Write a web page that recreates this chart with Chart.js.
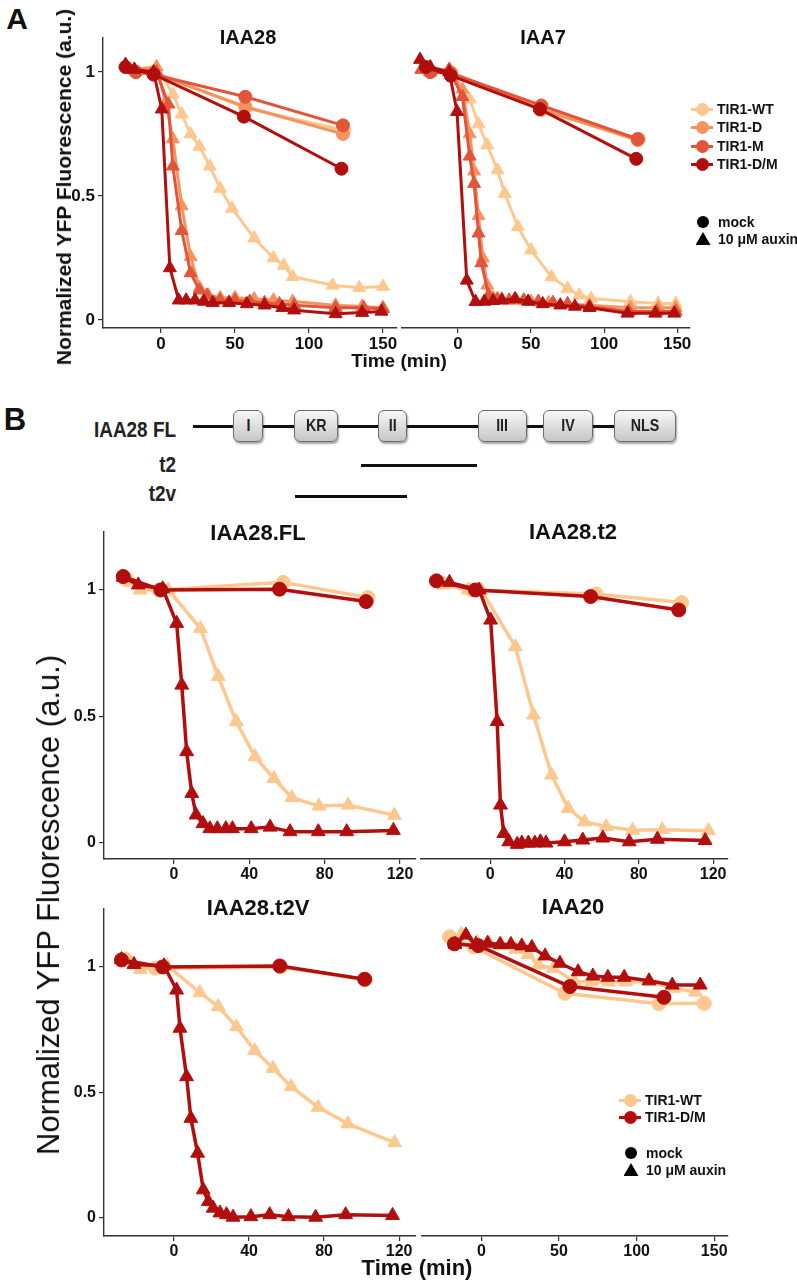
<!DOCTYPE html>
<html><head><meta charset="utf-8">
<script src="https://cdn.jsdelivr.net/npm/chart.js@4.4.1/dist/chart.umd.min.js"></script>
<style>
html,body{margin:0;padding:0;background:#fff;}
#page{position:relative;width:797px;height:1286px;overflow:hidden;font-family:'Liberation Sans',Arial,sans-serif;color:#111;}
.t{position:absolute;white-space:nowrap;line-height:1;transform:translate(-50%,-50%);}
.r{position:absolute;white-space:nowrap;line-height:1;transform:translate(-100%,-50%) scaleX(0.86);transform-origin:right center;}
.l{position:absolute;white-space:nowrap;line-height:1;transform:translate(0,-50%);}
canvas{position:absolute;}
.dom{position:absolute;box-sizing:border-box;border:1px solid #6b6b6b;border-radius:6px;background:linear-gradient(#f8f8f8,#c6c6c6);box-shadow:1px 2px 2px rgba(0,0,0,.35);display:flex;align-items:center;justify-content:center;font-family:'Liberation Sans',Arial,sans-serif;font-weight:bold;font-size:17px;color:#222;}
.dom span{display:inline-block;transform:scaleX(0.84);}
.bar{position:absolute;background:#111;}
.mk{position:absolute;}
</style></head><body><div id="page"></div>
<script>
// ---------- tick labels ----------
const yTicks = [0, 0.5, 1];
const xTicks150 = [0, 50, 100, 150];
const xTicks120 = [0, 40, 80, 120];

// ---------- Panel A : IAA28 ----------
const A28_WT_mock_t = [-17, -5, 57, 124];  const A28_WT_mock_v = [1.0, 1.0, 0.855, 0.765];
const A28_D_mock_t  = [-17, -5, 57, 123];  const A28_D_mock_v  = [1.0, 0.995, 0.86, 0.75];
const A28_M_mock_t  = [-17, -5, 57, 123];  const A28_M_mock_v  = [1.0, 0.99, 0.90, 0.785];
const A28_DM_mock_t = [-24, -5, 56, 122];  const A28_DM_mock_v = [1.02, 0.99, 0.82, 0.61];
const A28_WT_aux_t = [-23, -18, -3, 8, 14, 20, 26, 33, 40, 48, 63, 76, 83, 89, 116, 134, 150];
const A28_WT_aux_v = [1.02, 1.01, 1.02, 0.91, 0.83, 0.75, 0.70, 0.62, 0.53, 0.45, 0.33, 0.25, 0.22, 0.175, 0.14, 0.13, 0.135];
const A28_D_aux_t = [-23, -18, -3, 3, 8, 14, 20, 26, 32, 40, 50, 63, 76, 89, 118, 136, 150];
const A28_D_aux_v = [1.02, 1.01, 1.02, 0.88, 0.73, 0.46, 0.255, 0.13, 0.10, 0.09, 0.09, 0.085, 0.08, 0.075, 0.06, 0.055, 0.05];
const A28_M_aux_t = [-23, -18, -3, 5, 8, 14, 20, 26, 31, 40, 50, 60, 70, 80, 90, 118, 137, 150];
const A28_M_aux_v = [1.02, 1.01, 1.0, 0.87, 0.62, 0.36, 0.19, 0.12, 0.10, 0.08, 0.08, 0.075, 0.07, 0.065, 0.06, 0.05, 0.05, 0.045];
const A28_DM_aux_t = [-24, -18, -5, 0.5, 6, 12, 17, 23, 29, 35, 46, 58, 70, 82, 90, 118, 136, 149];
const A28_DM_aux_v = [1.03, 1.01, 1.0, 0.85, 0.21, 0.08, 0.08, 0.08, 0.075, 0.07, 0.07, 0.065, 0.06, 0.05, 0.04, 0.025, 0.03, 0.035];

// ---------- Panel A : IAA7 ----------
const A7_WT_mock_t = [-19, -5, 57, 124];  const A7_WT_mock_v = [1.0, 1.0, 0.845, 0.73];
const A7_D_mock_t  = [-19, -5, 57, 123];  const A7_D_mock_v  = [1.0, 0.995, 0.85, 0.725];
const A7_M_mock_t  = [-19, -5, 57, 123];  const A7_M_mock_v  = [1.0, 0.995, 0.865, 0.73];
const A7_DM_mock_t = [-22, -5, 56, 122];  const A7_DM_mock_v = [1.02, 0.985, 0.85, 0.65];
const A7_WT_aux_t = [-25, -19, -6, 8, 14, 20, 27, 32, 41, 50, 64, 75, 83, 91, 118, 137, 149];
const A7_WT_aux_v = [1.01, 1.0, 1.01, 0.89, 0.79, 0.705, 0.605, 0.51, 0.376, 0.282, 0.174, 0.127, 0.10, 0.087, 0.074, 0.067, 0.067];
const A7_D_aux_t = [-25, -19, -6, 3, 8, 11, 14, 17, 20, 24, 30, 40, 50, 62, 75, 90, 118, 137, 149];
const A7_D_aux_v = [1.01, 1.0, 1.01, 0.93, 0.75, 0.60, 0.42, 0.25, 0.14, 0.09, 0.085, 0.08, 0.075, 0.07, 0.065, 0.06, 0.05, 0.05, 0.05];
const A7_M_aux_t = [-25, -19, -6, 3, 8, 11, 14, 16, 21, 27, 35, 45, 55, 65, 75, 90, 117, 136, 149];
const A7_M_aux_v = [1.01, 1.0, 1.01, 0.90, 0.66, 0.55, 0.35, 0.23, 0.10, 0.085, 0.08, 0.08, 0.075, 0.07, 0.065, 0.055, 0.035, 0.035, 0.035];
const A7_DM_aux_t = [-26, -19, -6, -0.7, 6, 12, 18, 24, 30, 39, 48, 58, 70, 80, 90, 116, 135, 148];
const A7_DM_aux_v = [1.05, 1.02, 1.0, 0.84, 0.16, 0.074, 0.075, 0.078, 0.08, 0.085, 0.075, 0.065, 0.06, 0.055, 0.05, 0.027, 0.027, 0.027];

// ---------- Panel B : IAA28.FL ----------
const FL_WT_mock_t = [-25, -8, 58, 103];   const FL_WT_mock_v = [1.04, 1.0, 1.03, 0.97];
const FL_DM_mock_t = [-27, -7, 56, 102];   const FL_DM_mock_v = [1.053, 1.0, 1.003, 0.954];
const FL_WT_aux_t = [-25, -18, -3, 14, 23.5, 33, 43, 53, 62.5, 77, 92.5, 117];
const FL_WT_aux_v = [1.04, 1.0, 1.0, 0.848, 0.658, 0.48, 0.341, 0.255, 0.18, 0.146, 0.15, 0.11];
const FL_DM_aux_t = [-27, -19, -6, 1.4, 4.1, 6.7, 9.4, 11.7, 15.4, 19, 23, 27.5, 31, 41, 51, 61.6, 76.6, 91.7, 116.5];
const FL_DM_aux_v = [1.05, 1.02, 1.005, 0.868, 0.624, 0.361, 0.196, 0.111, 0.077, 0.057, 0.057, 0.057, 0.057, 0.057, 0.063, 0.045, 0.045, 0.045, 0.05];

// ---------- Panel B : IAA28.t2 ----------
const T2_WT_mock_t = [-27, -10, 57, 103];  const T2_WT_mock_v = [1.03, 1.0, 0.984, 0.95];
const T2_DM_mock_t = [-29, -8, 54, 101.5]; const T2_DM_mock_v = [1.036, 1.0, 0.974, 0.921];
const T2_WT_aux_t = [-25, -12, -4.9, 13.5, 23.3, 33, 42, 50.8, 62.4, 76.6, 92.6, 117.5];
const T2_WT_aux_v = [1.02, 1.0, 1.0, 0.776, 0.506, 0.269, 0.137, 0.084, 0.065, 0.051, 0.053, 0.049];
const T2_DM_aux_t = [-22, -6, 0.2, 3.7, 5.5, 7.3, 10, 14.5, 17, 20.5, 24, 27, 30, 40, 49.8, 60.6, 74.8, 90, 115.7];
const T2_DM_aux_v = [1.03, 1.0, 0.881, 0.48, 0.15, 0.038, 0.005, -0.005, 0.0, 0.0, 0.0, 0.005, 0.0, 0.005, 0.012, 0.02, 0.005, 0.015, 0.01];

// ---------- Panel B : IAA28.t2V ----------
const T2V_WT_mock_t = [-25.5, -10, 57, 102];  const T2V_WT_mock_v = [1.03, 0.995, 1.0, 0.95];
const T2V_DM_mock_t = [-28, -6, 56.4, 101.6]; const T2V_DM_mock_v = [1.028, 1.0, 1.004, 0.951];
const T2V_WT_aux_t = [-25, -18, -3.7, 13.8, 23.6, 33.3, 43, 52.8, 62.5, 76.8, 92.7, 117.6];
const T2V_WT_aux_v = [1.03, 0.99, 1.005, 0.898, 0.842, 0.762, 0.667, 0.596, 0.523, 0.441, 0.375, 0.30];
const T2V_DM_aux_t = [-28, -21.3, -5.3, 1.4, 3.2, 6.7, 9, 12.6, 15.6, 18.3, 20.9, 24.5, 28, 31.5, 41, 51, 61, 75.5, 91.5, 116.5];
const T2V_DM_aux_v = [1.03, 1.01, 1.005, 0.908, 0.756, 0.563, 0.397, 0.258, 0.112, 0.065, 0.039, 0.02, 0.013, 0.003, 0.005, 0.013, 0.005, 0.003, 0.013, 0.01];

// ---------- Panel B : IAA20 ----------
const A20_WT_mock_t = [-20.6, -5, 53.8, 114.4, 143.6]; const A20_WT_mock_v = [1.12, 1.08, 0.895, 0.853, 0.855];
const A20_DM_mock_t = [-17.4, -2, 57, 117.6];          const A20_DM_mock_v = [1.092, 1.085, 0.922, 0.879];
const A20_WT_aux_t = [-13, -3, 5, 13, 22, 30, 36.8, 46.4, 60, 71, 82, 93, 108, 124, 138];
const A20_WT_aux_v = [1.131, 1.1, 1.095, 1.085, 1.07, 1.05, 1.008, 0.995, 0.942, 0.94, 0.94, 0.94, 0.942, 0.915, 0.90];
const A20_DM_aux_t = [-17, -10, -3.5, 4, 12, 19, 26, 32.5, 41, 50.6, 62.3, 71.8, 81.5, 92, 108, 123, 141];
const A20_DM_aux_v = [1.09, 1.127, 1.09, 1.095, 1.09, 1.09, 1.084, 1.078, 1.044, 1.015, 0.981, 0.964, 0.959, 0.959, 0.945, 0.928, 0.928];

// ---------- legend entries ----------
const genotypesA = ['TIR1-WT', 'TIR1-D', 'TIR1-M', 'TIR1-D/M'];
const genotypesB = ['TIR1-WT', 'TIR1-D/M'];
const treatments = ['mock', '10 μM auxin'];
const domains = ['I', 'KR', 'II', 'III', 'IV', 'NLS'];
const constructs = ['IAA28 FL', 't2', 't2v'];

// ---------- styling ----------
const COL = { WT: '#FDC88F', D: '#F7925F', M: '#E1553A', DM: '#B20E0E' };
const page = document.getElementById('page');
const FF = "'Liberation Sans', Arial, sans-serif";

function el(cls, x, y, text, css) {
  const d = document.createElement('div');
  d.className = cls;
  if (text != null) d.textContent = text;
  d.style.cssText += 'left:' + x + 'px;top:' + y + 'px;' + (css || '');
  page.appendChild(d);
  return d;
}

function ds(t, v, col, shape, r, bw) {
  return {
    data: t.map((x, i) => ({ x: x, y: v[i] })),
    borderColor: col, backgroundColor: col,
    pointBackgroundColor: col, pointBorderColor: col,
    borderWidth: bw, pointStyle: shape, pointRadius: r, pointHoverRadius: r,
    pointBorderWidth: 1, tension: 0, clip: false, fill: false,
    borderJoinStyle: 'round', borderCapStyle: 'round'
  };
}

function panel(rect, xr, yr, xt, yt, fontPx, list) {
  const YW = yt ? 40 : 0, padL = 6, padT = 16, padR = 26, padB = 2, XH = 34;
  const W = rect[2] - rect[0] + YW + padL + padR;
  const H = rect[3] - rect[1] + padT + padB + XH;
  const cv = document.createElement('canvas');
  cv.width = W; cv.height = H;
  cv.style.left = (rect[0] - YW - padL) + 'px';
  cv.style.top = (rect[1] - padT) + 'px';
  cv.style.width = W + 'px'; cv.style.height = H + 'px';
  page.appendChild(cv);
  const tickFont = { family: FF, size: fontPx, weight: 'bold' };
  const gridCfg = { drawOnChartArea: false, drawTicks: true, tickLength: 5, color: '#333', lineWidth: 1.2 };
  const borderCfg = { display: true, color: '#333', width: 1.4 };
  new Chart(cv, {
    type: 'line',
    data: { datasets: list.slice().reverse() },
    options: {
      responsive: false, maintainAspectRatio: false, animation: false, devicePixelRatio: 1,
      events: [],
      layout: { padding: { left: padL, top: padT, right: padR, bottom: padB } },
      plugins: { legend: { display: false }, tooltip: { enabled: false }, title: { display: false } },
      scales: {
        x: {
          type: 'linear', min: xr[0], max: xr[1],
          afterFit: s => { s.height = XH; },
          afterBuildTicks: s => { s.ticks = xt.map(v => ({ value: v })); },
          ticks: { font: tickFont, color: '#111', padding: 1, maxRotation: 0, autoSkip: false, callback: v => String(v) },
          grid: gridCfg, border: borderCfg
        },
        y: {
          type: 'linear', display: !!yt, min: yr[0], max: yr[1],
          afterFit: s => { s.width = YW; },
          afterBuildTicks: s => { s.ticks = (yt || []).map(v => ({ value: v })); },
          ticks: { font: tickFont, color: '#111', padding: 3, autoSkip: false, callback: v => String(v) },
          grid: gridCfg, border: borderCfg
        }
      }
    }
  });
}

// ---------- Panel A charts ----------
const rA = 6.5, tA = 7.5, wA = 3;
panel([103, 38, 397, 328], [-39.2, 159.5], [-0.032, 1.137], xTicks150, yTicks, 17, [
  ds(A28_WT_mock_t, A28_WT_mock_v, COL.WT, 'circle', rA, wA),
  ds(A28_WT_aux_t, A28_WT_aux_v, COL.WT, 'triangle', tA, wA),
  ds(A28_D_mock_t, A28_D_mock_v, COL.D, 'circle', rA, wA),
  ds(A28_D_aux_t, A28_D_aux_v, COL.D, 'triangle', tA, wA),
  ds(A28_M_mock_t, A28_M_mock_v, COL.M, 'circle', rA, wA),
  ds(A28_M_aux_t, A28_M_aux_v, COL.M, 'triangle', tA, wA),
  ds(A28_DM_mock_t, A28_DM_mock_v, COL.DM, 'circle', rA, wA),
  ds(A28_DM_aux_t, A28_DM_aux_v, COL.DM, 'triangle', tA, wA)
]);
panel([399, 38, 690, 328], [-38.7, 158.8], [-0.032, 1.137], xTicks150, null, 17, [
  ds(A7_WT_mock_t, A7_WT_mock_v, COL.WT, 'circle', rA, wA),
  ds(A7_WT_aux_t, A7_WT_aux_v, COL.WT, 'triangle', tA, wA),
  ds(A7_D_mock_t, A7_D_mock_v, COL.D, 'circle', rA, wA),
  ds(A7_D_aux_t, A7_D_aux_v, COL.D, 'triangle', tA, wA),
  ds(A7_M_mock_t, A7_M_mock_v, COL.M, 'circle', rA, wA),
  ds(A7_M_aux_t, A7_M_aux_v, COL.M, 'triangle', tA, wA),
  ds(A7_DM_mock_t, A7_DM_mock_v, COL.DM, 'circle', rA, wA),
  ds(A7_DM_aux_t, A7_DM_aux_v, COL.DM, 'triangle', tA, wA)
]);

// ---------- Panel B charts ----------
const rB = 7, tB = 8, wB = 3.5;
panel([104, 532, 416, 859], [-37.2, 128.5], [-0.063, 1.229], xTicks120, yTicks, 16, [
  ds(FL_WT_mock_t, FL_WT_mock_v, COL.WT, 'circle', rB, wB),
  ds(FL_WT_aux_t, FL_WT_aux_v, COL.WT, 'triangle', tB, wB),
  ds(FL_DM_mock_t, FL_DM_mock_v, COL.DM, 'circle', rB, wB),
  ds(FL_DM_aux_t, FL_DM_aux_v, COL.DM, 'triangle', tB, wB)
]);
panel([418, 532, 728, 859], [-37.3, 128], [-0.063, 1.229], xTicks120, null, 16, [
  ds(T2_WT_mock_t, T2_WT_mock_v, COL.WT, 'circle', rB, wB),
  ds(T2_WT_aux_t, T2_WT_aux_v, COL.WT, 'triangle', tB, wB),
  ds(T2_DM_mock_t, T2_DM_mock_v, COL.DM, 'circle', rB, wB),
  ds(T2_DM_aux_t, T2_DM_aux_v, COL.DM, 'triangle', tB, wB)
]);
panel([104, 909, 416, 1236], [-37.3, 129], [-0.072, 1.231], xTicks120, yTicks, 16, [
  ds(T2V_WT_mock_t, T2V_WT_mock_v, COL.WT, 'circle', rB, wB),
  ds(T2V_WT_aux_t, T2V_WT_aux_v, COL.WT, 'triangle', tB, wB),
  ds(T2V_DM_mock_t, T2V_DM_mock_v, COL.DM, 'circle', rB, wB),
  ds(T2V_DM_aux_t, T2V_DM_aux_v, COL.DM, 'triangle', tB, wB)
]);
panel([419, 909, 728, 1236], [-38.3, 158.9], [-0.072, 1.231], xTicks150, null, 16, [
  ds(A20_WT_mock_t, A20_WT_mock_v, COL.WT, 'circle', rB, wB),
  ds(A20_WT_aux_t, A20_WT_aux_v, COL.WT, 'triangle', tB, wB),
  ds(A20_DM_mock_t, A20_DM_mock_v, COL.DM, 'circle', rB, wB),
  ds(A20_DM_aux_t, A20_DM_aux_v, COL.DM, 'triangle', tB, wB)
]);

// ---------- Text: panel letters, titles, axis titles ----------
el('t', 17, 19, 'A', 'font:bold 30px ' + FF + ';');
el('t', 15, 420, 'B', 'font:bold 31px ' + FF + ';');
el('t', 248, 37, 'IAA28', 'font:bold 20px ' + FF + ';');
el('t', 543, 37, 'IAA7', 'font:bold 20px ' + FF + ';');
el('t', 258, 533, 'IAA28.FL', 'font:bold 22px ' + FF + ';');
el('t', 573, 532, 'IAA28.t2', 'font:bold 22px ' + FF + ';');
el('t', 258, 908, 'IAA28.t2V', 'font:bold 22px ' + FF + ';');
el('t', 573, 907, 'IAA20', 'font:bold 22px ' + FF + ';');
el('t', 64, 187, 'Normalized YFP Fluorescence (a.u.)', 'font:bold 21px ' + FF + ';transform:translate(-50%,-50%) rotate(-90deg);');
el('t', 399, 361, 'Time (min)', 'font:bold 19px ' + FF + ';');
el('t', 49, 905, 'Normalized YFP Fluorescence (a.u.)', 'font:31px ' + FF + ';transform:translate(-50%,-50%) rotate(-90deg);');
el('t', 417, 1268, 'Time (min)', 'font:bold 22px ' + FF + ';');

// ---------- Legends ----------
function legGeno(cx, cy, col, label) {
  el('mk', cx - 11, cy - 1.5, null, 'width:22px;height:3px;background:' + col + ';');
  el('mk', cx - 6.5, cy - 6.5, null, 'width:13px;height:13px;border-radius:50%;background:' + col + ';');
  el('l', cx + 15, cy, label, 'font:bold 14px ' + FF + ';');
}
function legShape(cx, cy, shape, label) {
  if (shape === 'circle') el('mk', cx - 6, cy - 6, null, 'width:12px;height:12px;border-radius:50%;background:#000;');
  else el('mk', cx - 7.5, cy - 7, null, 'width:15px;height:13px;background:#000;clip-path:polygon(50% 0,100% 100%,0 100%);');
  el('l', cx + 15, cy, label, 'font:bold 14px ' + FF + ';');
}
const colsA = [COL.WT, COL.D, COL.M, COL.DM];
const legAy = [109, 127, 146, 164];
genotypesA.forEach((g, i) => legGeno(702, legAy[i], colsA[i], g));
legShape(703, 222, 'circle', treatments[0]);
legShape(703, 239, 'triangle', treatments[1]);
const colsB = [COL.WT, COL.DM];
const legBy = [1100, 1117];
genotypesB.forEach((g, i) => legGeno(630, legBy[i], colsB[i], g));
legShape(631, 1153, 'circle', treatments[0]);
legShape(631, 1170, 'triangle', treatments[1]);

// ---------- Domain diagram ----------
el('r', 176, 430, constructs[0], 'font:bold 22px ' + FF + ';color:#222;');
el('r', 176, 465, constructs[1], 'font:bold 22px ' + FF + ';color:#222;');
el('r', 176, 494, constructs[2], 'font:bold 22px ' + FF + ';color:#222;');
el('bar', 193, 424.5, null, 'width:421px;height:3px;');
el('bar', 361, 464, null, 'width:116px;height:3px;');
el('bar', 295, 495, null, 'width:112px;height:3px;');
const domX = [[233, 263], [294, 338], [378, 407], [478, 527], [543, 593], [614, 676]];
domains.forEach((d, i) => {
  const b = el('dom', domX[i][0], 410, null, 'width:' + (domX[i][1] - domX[i][0]) + 'px;height:32px;');
  const s = document.createElement('span');
  s.textContent = d;
  b.appendChild(s);
});
</script></body></html>
